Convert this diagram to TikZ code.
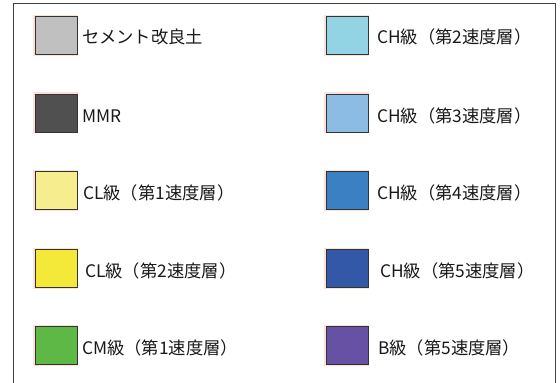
\documentclass[tikz,border=0pt]{standalone}
\usepackage{fontspec}
\setmainfont{Noto Sans CJK JP}
\definecolor{cA}{HTML}{C0C0C0}
\definecolor{cB}{HTML}{505050}
\definecolor{cC}{HTML}{F6EE8E}
\definecolor{cD}{HTML}{F4E938}
\definecolor{cE}{HTML}{5DB846}
\definecolor{cF}{HTML}{93D4E4}
\definecolor{cG}{HTML}{8CBBE4}
\definecolor{cH}{HTML}{3A80C3}
\definecolor{cI}{HTML}{3358A8}
\definecolor{cJ}{HTML}{6651A4}
\definecolor{glow}{HTML}{FBE2D8}
\tikzset{
  swatch/.style={draw=black!80, line width=0.9pt, minimum width=42pt, minimum height=38pt, inner sep=0pt, anchor=north west,
    preaction={draw=glow, line width=3pt}},
  lbl/.style={anchor=west, inner sep=0pt, font=\fontsize{17.3}{20}\selectfont, text=black!90},
  frame/.style={draw=black!75, line width=0.9pt}
}
\begin{document}
\begin{tikzpicture}[x=1pt,y=-1pt]
\useasboundingbox (0,0) rectangle (560,383);
\coordinate (fbl) at (13,383);
\coordinate (ftl) at (13,3.5);
\coordinate (ftr) at (555.5,3.5);
\coordinate (fbr) at (555.5,383);
\draw[frame] (fbl) -- (ftl) -- (ftr) -- (fbr);
% left column
\node[swatch, fill=cA] (s1) at (34.5,16) {};
\node[swatch, fill=cB] (s2) at (34.5,93.5) {};
\node[swatch, fill=cC] (s3) at (34.5,171) {};
\node[swatch, fill=cD] (s4) at (34.5,249) {};
\node[swatch, fill=cE] (s5) at (34.5,326) {};
\node[lbl] (t1) at (82,37) {セメント改良土};
\node[lbl] (t2) at (82,116) {MMR};
\node[lbl] (t3) at (83,193) {CL級（第1速度層）};
\node[lbl] (t4) at (85,271) {CL級（第2速度層）};
\node[lbl] (t5) at (82,348) {CM級（第1速度層）};
% right column
\node[swatch, fill=cF] (r1) at (325.5,16) {};
\node[swatch, fill=cG] (r2) at (325.5,93.5) {};
\node[swatch, fill=cH] (r3) at (325.5,171) {};
\node[swatch, fill=cI] (r4) at (325.5,249) {};
\node[swatch, fill=cJ] (r5) at (325.5,326) {};
\node[lbl] (u1) at (377,37) {CH級（第2速度層）};
\node[lbl] (u2) at (377,116) {CH級（第3速度層）};
\node[lbl] (u3) at (377,193) {CH級（第4速度層）};
\node[lbl] (u4) at (380,271) {CH級（第5速度層）};
\node[lbl] (u5) at (378,348) {B級（第5速度層）};
\end{tikzpicture}
\end{document}
